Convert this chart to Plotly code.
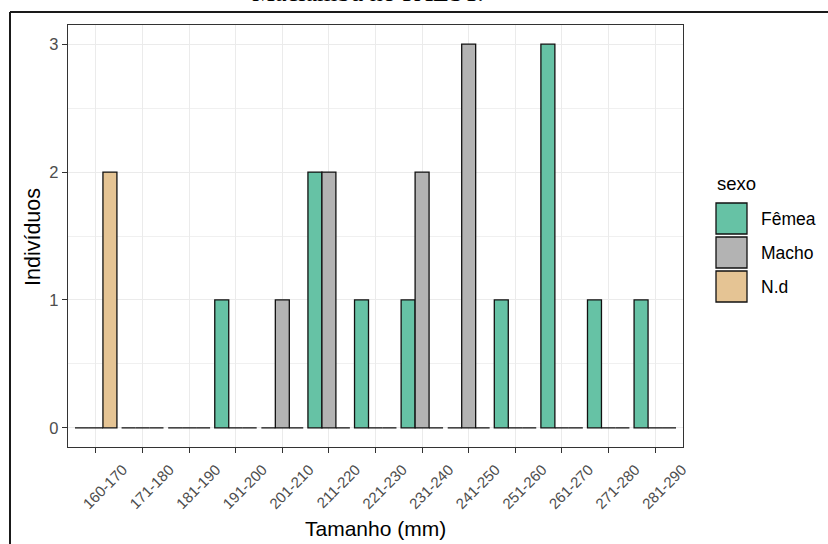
import plotly.graph_objects as go

# ---- data ----
categories = ["160-170", "171-180", "181-190", "191-200", "201-210", "211-220",
              "221-230", "231-240", "241-250", "251-260", "261-270", "271-280", "281-290"]
femea = [0, 0, 0, 1, 0, 2, 1, 1, 0, 1, 3, 1, 1]
macho = [0, 0, 0, 0, 1, 2, 0, 2, 3, 0, 0, 0, 0]
nd    = [2, 0, 0, 0, 0, 0, 0, 0, 0, 0, 0, 0, 0]
series_names = ["Fêmea", "Macho", "N.d"]
series_colors = ["#66C2A5", "#B3B3B3", "#E5C494"]
y_ticks = [0, 1, 2, 3]

W, H = 828, 544
L, R, T, B = 68, 145, 25, 97
PW, PH = W - L - R, H - T - B


def px(x):
    return (x - L) / PW


def py(y):
    return (H - B - y) / PH


fig = go.Figure()
for name, vals, col in zip(series_names, [femea, macho, nd], series_colors):
    fig.add_trace(go.Bar(
        x=categories, y=vals, name=name,
        marker=dict(color=col, line=dict(color="#111111", width=1.3)),
        showlegend=False,
    ))

font_sans = "Liberation Sans, Arial, sans-serif"

fig.update_layout(
    width=W, height=H,
    margin=dict(l=L, r=R, t=T, b=B, pad=0),
    paper_bgcolor="white", plot_bgcolor="white",
    barmode="group", bargap=0.1, bargroupgap=0,
    font=dict(family=font_sans, color="#4D4D4D"),
)

fig.update_xaxes(
    type="category", range=[-0.6, len(categories) - 0.4],
    showgrid=True, gridcolor="#EBEBEB", gridwidth=1.3,
    showline=True, mirror=True, linecolor="#333333", linewidth=1.3,
    ticks="outside", ticklen=5, tickwidth=1.2, tickcolor="#333333",
    tickangle=-45, tickfont=dict(size=15, color="#4D4D4D", family=font_sans),
    ticklabelshift=27, ticklabelstandoff=2,
    zeroline=False,
)
fig.update_yaxes(
    range=[-0.15, 3.15], tickvals=y_ticks,
    showgrid=True, gridcolor="#EBEBEB", gridwidth=1.3,
    minor=dict(tickvals=[0.5, 1.5, 2.5], showgrid=True, gridcolor="#F0F0F0", gridwidth=0.8, ticks=""),
    showline=True, mirror=True, linecolor="#333333", linewidth=1.3,
    ticks="outside", ticklen=5, tickwidth=1.2, tickcolor="#333333",
    tickfont=dict(size=16.5, color="#4D4D4D", family=font_sans),
    zeroline=False,
)

annotations = [
    dict(text="Tamanho (mm)", x=px(375), y=py(528), xref="paper", yref="paper",
         showarrow=False, font=dict(size=21, color="black", family=font_sans),
         xanchor="center", yanchor="middle"),
    dict(text="Indivíduos", x=px(33), y=py(237), xref="paper", yref="paper",
         showarrow=False, textangle=-90, font=dict(size=21.5, color="black", family=font_sans),
         xanchor="center", yanchor="middle"),
    dict(text="Maciambu no PAEST.", x=px(368), y=py(9), xref="paper", yref="paper",
         showarrow=False, font=dict(size=26, color="black", family="Liberation Serif, Times New Roman, serif"),
         xanchor="center", yanchor="bottom"),
    dict(text="sexo", x=px(715), y=py(183), xref="paper", yref="paper",
         showarrow=False, font=dict(size=18.5, color="black", family=font_sans),
         xanchor="left", yanchor="middle"),
]

shapes = [
    # document frame
    dict(type="line", xref="paper", yref="paper", x0=px(10), x1=px(W + 5), y0=py(12), y1=py(12),
         line=dict(color="#1a1a1a", width=2)),
    dict(type="line", xref="paper", yref="paper", x0=px(10), x1=px(10), y0=py(12), y1=py(H + 5),
         line=dict(color="#1a1a1a", width=2)),
]

key_tops = [203, 237, 271]
for name, col, top in zip(series_names, series_colors, key_tops):
    shapes.append(dict(type="rect", xref="paper", yref="paper",
                       x0=px(716), x1=px(747), y0=py(top), y1=py(top + 31),
                       fillcolor=col, line=dict(color="#111111", width=1.3)))
    annotations.append(dict(text=name, x=px(759), y=py(top + 16), xref="paper", yref="paper",
                            showarrow=False, font=dict(size=17.5, color="black", family=font_sans),
                            xanchor="left", yanchor="middle"))

fig.update_layout(annotations=annotations, shapes=shapes)
fig.write_html("out.html")
